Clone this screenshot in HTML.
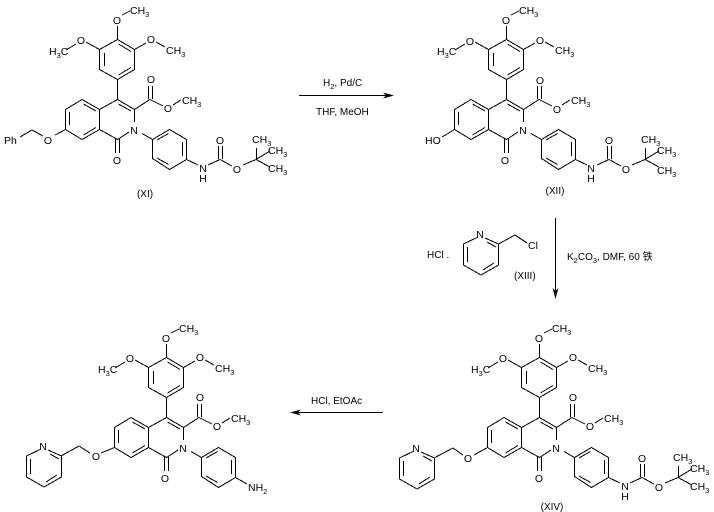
<!DOCTYPE html>
<html>
<head>
<meta charset="utf-8">
<style>
html,body{margin:0;padding:0;background:#fff;width:714px;height:512px;overflow:hidden}
svg{display:block}
path{fill:none;stroke:#000;stroke-width:1;shape-rendering:crispEdges}
polygon{fill:#000;stroke:none}
text{font-family:"Liberation Sans","Noto Sans CJK SC",sans-serif;font-size:10.5px;fill:#000}
.m{text-anchor:middle}
.r{font-size:10px}
tspan.s{font-size:7.5px}
</style>
</head>
<body>
<svg width="714" height="512" viewBox="0 0 714 512" xmlns="http://www.w3.org/2000/svg">
<defs>
<g id="core">
<path d="M117.5 39.5L134.5 49.5L134.5 69.5L117.5 79.5L99.5 69.5L99.5 49.5Z M104.5 53L104.5 66 M118.5 44L131 51.5 M118.5 75L131 67.5
M117.5 79.5L117.5 99.5 M117.5 99.5L134.5 109.5L134.5 122 M118.5 104L131 111 M129 132L117.5 139.5L99.5 129.5L99.5 109.5L117.5 99.5 M99.5 109.5L82 99.5L65.5 109.5L65.5 129.5L82 139.5L99.5 129.5
M83.5 104L96 111 M69.5 112L69.5 125 M83.5 135L96 127.5
M134.5 109.5L150 99.5L163 106 M148.5 99L148.5 86 M152.5 99L152.5 86 M173 105L181 100
M115.5 139L115.5 153 M119.5 139L119.5 153
M142 133.5L152.5 139.5 M152.5 139.5L169.5 129.5L186.5 139.5L186.5 159.5L169.5 169.5L152.5 158.5Z M157 140L168.5 133.5 M182.5 142L182.5 156 M157 158L168.5 164.5
M117.5 39L117.5 26 M122 15L130 11 M134.5 49.5L146 43 M156 42L165 47 M99.5 49.5L86 42 M76 44L66 50"/>
</g>
<g id="boc">
<path d="M186.5 159.5L198 165 M208 165L220 159.5L232 166 M218.5 159L218.5 146 M222.5 159L222.5 146 M243 165L256 159.5 M256.5 159L256.5 148 M256 159.5L270 151 M256 159.5L270 167"/>
</g>
<g id="pyr">
<path d="M478 237L463.5 244L463.5 265L481 275L498.5 265L498.5 244L485 238 M487 242L496 247 M467.5 247L467.5 262 M483 270L494 263"/>
</g>
</defs>

<!-- XI -->
<g>
<use href="#core"/><use href="#boc"/>
<path d="M65.5 129.5L55 135 M43 136L32 130L20 137"/>
<text class="m" x="117" y="24">O</text>
<text x="130" y="14">CH<tspan class="s" dy="3">3</tspan></text>
<text class="m" x="151" y="43">O</text>
<text x="166" y="54">CH<tspan class="s" dy="3">3</tspan></text>
<text class="m" x="81" y="44">O</text>
<text x="49" y="55">H<tspan class="s" dy="3">3</tspan><tspan dy="-3">C</tspan></text>
<text class="m" x="151" y="83">O</text>
<text class="m" x="168" y="112">O</text>
<text x="182" y="104">CH<tspan class="s" dy="3">3</tspan></text>
<text class="m" x="134" y="134">N</text>
<text class="m" x="117" y="164">O</text>
<text class="m" x="203" y="172">N</text>
<text class="m" x="203" y="182">H</text>
<text class="m" x="220" y="144">O</text>
<text class="m" x="237" y="173">O</text>
<text x="252" y="143">CH<tspan class="s" dy="3">3</tspan></text>
<text x="268" y="154">CH<tspan class="s" dy="3">3</tspan></text>
<text x="268" y="172">CH<tspan class="s" dy="3">3</tspan></text>
<text class="m" x="48" y="144">O</text>
<text x="4" y="144">Ph</text>
<text class="m r" x="145" y="197">(XI)</text>
</g>

<!-- XII -->
<g transform="translate(389,0)">
<use href="#core"/><use href="#boc"/>
<path d="M65.5 129.5L53 137"/>
<text class="m" x="117" y="24">O</text>
<text x="130" y="14">CH<tspan class="s" dy="3">3</tspan></text>
<text class="m" x="151" y="44">O</text>
<text x="166" y="54">CH<tspan class="s" dy="3">3</tspan></text>
<text class="m" x="81" y="45">O</text>
<text x="48" y="55">H<tspan class="s" dy="3">3</tspan><tspan dy="-3">C</tspan></text>
<text class="m" x="151" y="84">O</text>
<text class="m" x="168" y="113">O</text>
<text x="182" y="104">CH<tspan class="s" dy="3">3</tspan></text>
<text class="m" x="134" y="134">N</text>
<text class="m" x="116" y="164">O</text>
<text class="m" x="202" y="172">N</text>
<text class="m" x="202" y="182">H</text>
<text class="m" x="220" y="144">O</text>
<text class="m" x="237" y="173">O</text>
<text x="252" y="143">CH<tspan class="s" dy="3">3</tspan></text>
<text x="268" y="154">CH<tspan class="s" dy="3">3</tspan></text>
<text x="268" y="174">CH<tspan class="s" dy="3">3</tspan></text>
<text x="36" y="144">HO</text>
<text class="m r" x="166" y="194">(XII)</text>
</g>

<!-- XIV -->
<g transform="translate(422,318)">
<use href="#core"/><use href="#boc"/>
<text class="m" x="117" y="24">O</text>
<text x="130" y="14">CH<tspan class="s" dy="3">3</tspan></text>
<text class="m" x="151" y="43">O</text>
<text x="166" y="54">CH<tspan class="s" dy="3">3</tspan></text>
<text class="m" x="81" y="44">O</text>
<text x="49" y="55">H<tspan class="s" dy="3">3</tspan><tspan dy="-3">C</tspan></text>
<text class="m" x="151" y="83">O</text>
<text class="m" x="168" y="112">O</text>
<text x="182" y="104">CH<tspan class="s" dy="3">3</tspan></text>
<text class="m" x="134" y="134">N</text>
<text class="m" x="117" y="164">O</text>
<text class="m" x="203" y="172">N</text>
<text class="m" x="203" y="182">H</text>
<text class="m" x="220" y="144">O</text>
<text class="m" x="237" y="173">O</text>
<text x="251" y="143">CH<tspan class="s" dy="3">3</tspan></text>
<text x="268" y="154">CH<tspan class="s" dy="3">3</tspan></text>
<text x="268" y="172">CH<tspan class="s" dy="3">3</tspan></text>
</g>
<g transform="translate(-64,214)"><use href="#pyr"/></g>
<path d="M434 458L453 448L463 455 M474 455L487.5 447.5"/>
<text class="m" x="416" y="452">N</text>
<text class="m" x="468" y="462">O</text>
<text class="m r" x="552" y="510">(XIV)</text>

<!-- Amine product -->
<g transform="translate(49,318)">
<use href="#core"/>
<path d="M186.5 159.5L198 166"/>
<text class="m" x="117" y="24">O</text>
<text x="130" y="14">CH<tspan class="s" dy="3">3</tspan></text>
<text class="m" x="151" y="43">O</text>
<text x="166" y="54">CH<tspan class="s" dy="3">3</tspan></text>
<text class="m" x="81" y="44">O</text>
<text x="49" y="55">H<tspan class="s" dy="3">3</tspan><tspan dy="-3">C</tspan></text>
<text class="m" x="151" y="83">O</text>
<text class="m" x="168" y="112">O</text>
<text x="182" y="104">CH<tspan class="s" dy="3">3</tspan></text>
<text class="m" x="134" y="134">N</text>
<text class="m" x="116" y="164">O</text>
<text x="199" y="173">NH<tspan class="s" dy="3">2</tspan></text>
</g>
<g transform="translate(-437,212)"><use href="#pyr"/></g>
<path d="M61 456L79 446L90 453 M101 453L114.5 447.5"/>
<text class="m" x="43" y="450">N</text>
<text class="m" x="96" y="460">O</text>

<!-- Reaction 1 -->
<path d="M299 95.5L390 95.5"/>
<polygon points="394,95.5 383,92.5 386,95.5 383,98.5"/>
<text class="r" x="323" y="86">H<tspan class="s" dy="3">2</tspan><tspan dy="-3">, Pd/C</tspan></text>
<text class="r" x="316" y="115">THF, MeOH</text>

<!-- Reaction 2 -->
<path d="M555.5 218L555.5 295"/>
<polygon points="555.5,299 552.5,288 555.5,291 558.5,288"/>
<text class="r" x="427" y="258">HCl .</text>
<use href="#pyr"/>
<path d="M498.5 244L515 235L527 243"/>
<text class="m" x="480" y="238">N</text>
<text x="528" y="249">Cl</text>
<text class="r" x="514" y="279">(XIII)</text>
<text class="r" x="567" y="260">K<tspan class="s" dy="3">2</tspan><tspan dy="-3">CO</tspan><tspan class="s" dy="3">3</tspan><tspan dy="-3">, DMF, 60 铁</tspan></text>

<!-- Reaction 3 -->
<path d="M294 412.5L383 412.5"/>
<polygon points="290,412.5 301,409.5 298,412.5 301,415.5"/>
<text class="r" x="311" y="404">HCl, EtOAc</text>
</svg>
</body>
</html>
